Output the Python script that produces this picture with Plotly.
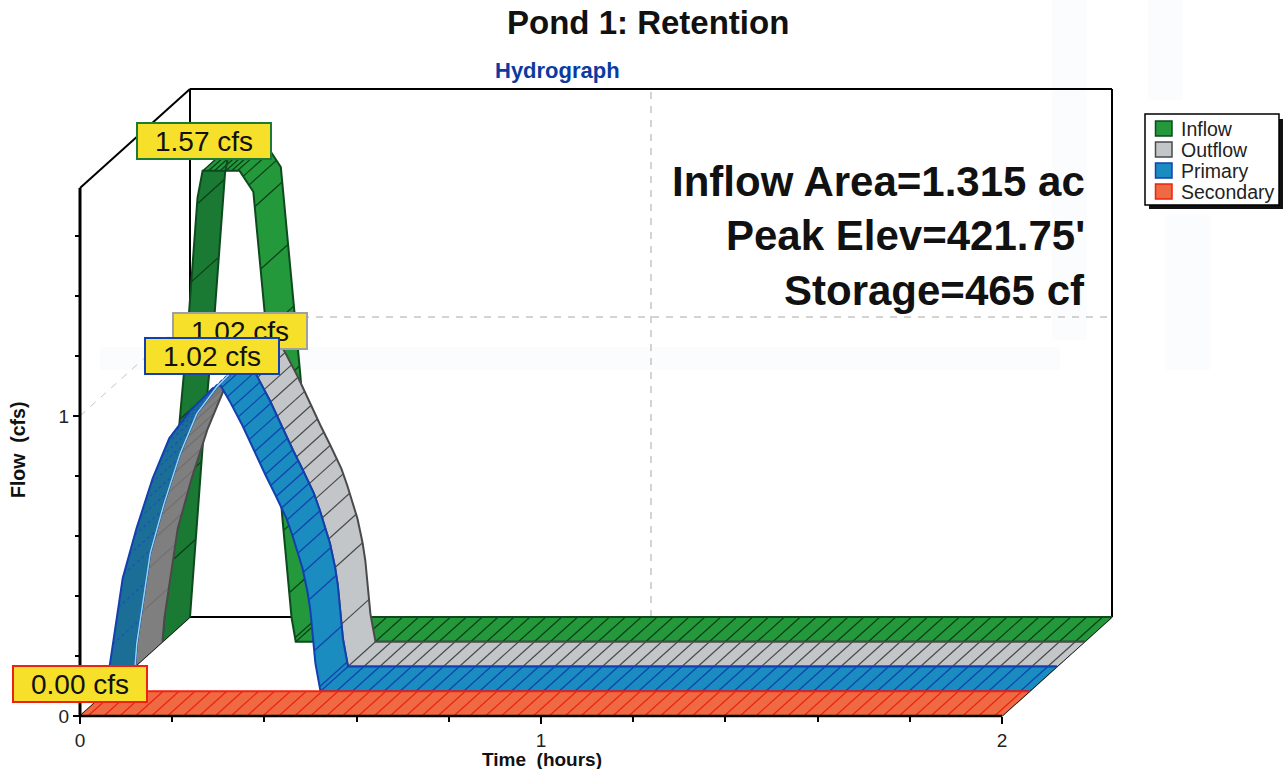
import numpy as np
import plotly.graph_objects as go

# ---- data (hours, cfs) ----
series_names = ["Inflow", "Outflow", "Primary", "Secondary"]
inflow_t = [0, 0.028, 0.054, 0.076, 0.087, 0.167, 0.197, 0.221, 0.239, 0.260, 0.280, 0.289, 2]
inflow_q = [0, 0.58, 1.023, 1.48, 1.57, 1.57, 1.50, 1.10, 0.813, 0.413, 0.08, 0, 0]
outflow_t = [0, 0.004, 0.033, 0.063, 0.098, 0.134, 0.178, 0.228, 0.245, 0.265, 0.293, 0.315, 0.343, 0.364, 0.388, 0.401, 0.423, 0.434, 0.440, 0.451, 0.462, 2]
outflow_q = [0, 0.077, 0.377, 0.543, 0.71, 0.843, 0.933, 1.01, 1.02, 0.967, 0.885, 0.81, 0.72, 0.655, 0.577, 0.52, 0.41, 0.33, 0.27, 0.093, 0, 0]
primary_t = list(outflow_t)
primary_q = list(outflow_q)
secondary_t = [0, 2]
secondary_q = [0, 0]
peak_labels = ["1.57 cfs", "1.02 cfs", "1.02 cfs", "0.00 cfs"]
info_lines = ["Inflow Area=1.315 ac", "Peak Elev=421.75'", "Storage=465 cf"]
x_ticks = [0, 1, 2]
y_ticks = [0, 1]
x_minor = [0.2, 0.4, 0.6, 0.8, 1.2, 1.4, 1.6, 1.8]
y_minor = [0.2, 0.4, 0.6, 0.8, 1.2, 1.4, 1.6]

# ---- pseudo-3D geometry ----
W, H = 1286, 769
L, R, T, B = 80, 1112, 89, 716
PX_T, PX_Q = 461.0, 300.0       # pixels per hour / per cfs
DT, DQ = 27.5 / PX_T, 24.75 / PX_Q  # one ribbon of depth
def X(px): return (px - L) / PX_T
def Y(py): return (B - py) / PX_Q

fig = go.Figure()

def line(xs, ys, color="#000", width=1.5, dash=None):
    fig.add_trace(go.Scatter(x=xs, y=ys, mode="lines", hoverinfo="skip", showlegend=False,
                             line=dict(color=color, width=width, dash=dash)))

def poly(xs, ys, color):
    fig.add_trace(go.Scatter(x=xs, y=ys, mode="lines", fill="toself", fillcolor=color,
                             hoverinfo="skip", showlegend=False, line=dict(width=0, color=color)))

def ribbon(name, t, q, depth, rise_fill, fall_fill, edge, rise_hatch, fall_hatch, dt, rise_dash=None, rise_back=None):
    t, q = np.array(t, float), np.array(q, float)
    x0, y0 = t + depth * DT, q + depth * DQ
    x1, y1 = t + (depth + 1) * DT, q + (depth + 1) * DQ
    pk = int(np.argmax(q))
    tend = t[np.where(q > 0)[0][-1] + 1] if q.max() > 0 else 0.0
    # bands
    if pk > 0:
        poly(list(x0[:pk + 1]) + list(x1[:pk + 1][::-1]), list(y0[:pk + 1]) + list(y1[:pk + 1][::-1]), rise_fill)
    poly(list(x0[pk:]) + list(x1[pk:][::-1]), list(y0[pk:]) + list(y1[pk:][::-1]), fall_fill)
    # hatching in the depth direction
    ts = np.concatenate([np.arange(dt, tend, dt), np.arange(tend, 2.0, 0.0345)]) if tend > 0 else np.arange(0.0172, 2.0, 0.0345)
    tp = t[pk]
    for cond, col, dash in ((ts < tp, rise_hatch, rise_dash), (ts >= tp, fall_hatch, None)):
        hx, hy = [], []
        for h in ts[cond]:
            v = np.interp(h, t, q)
            hx += [h + depth * DT, h + (depth + 1) * DT, None]
            hy += [v + depth * DQ, v + (depth + 1) * DQ, None]
        if hx:
            line(hx, hy, col, 1.2, dash)
    # outlines
    line(list(x0), list(y0), edge, 2)
    line(list(x1), list(y1), edge, 2)
    if rise_back and pk > 0:
        line(list(x1[:pk + 1]), list(y1[:pk + 1]), rise_back, 1.5)

tmax, qmax = 2 + 4 * DT, 4 * DQ
top_q = Y(T)
wall_q = Y(188)

# faint grid on the back wall and side wall
line([1 + tmax - 2, 1 + tmax - 2], [qmax, top_q], "#a8a8a8", 1, "7px,7px")
line([tmax - 2, tmax], [1 + qmax, 1 + qmax], "#a8a8a8", 1, "7px,7px")
line([0, tmax - 2], [1, 1 + qmax], "#c4c4c4", 1, "7px,7px")

# back frame
line([tmax - 2, tmax - 2], [qmax, top_q], "#000", 2)
line([tmax - 2, tmax], [top_q, top_q], "#000", 2)
line([tmax, tmax], [top_q, qmax], "#000", 2)
line([tmax - 2, tmax], [qmax, qmax], "#000", 2)
line([0, tmax - 2], [wall_q, top_q], "#000", 2)
line([0, tmax - 2], [0, qmax], "#000", 1.5)
line([2, tmax], [0, qmax], "#000", 1.5)

# ribbons, back to front
ribbon("Inflow", inflow_t, inflow_q, 3, "#1a7a33", "#24993b", "#0d4a1e", "#0c3d18", "#0c3d18", 0.0125)
ribbon("Outflow", outflow_t, outflow_q, 2, "#7f7f7f", "#c3c6c9", "#4a4a4a", "#707070", "#4a4a4a", 0.014)
ribbon("Primary", primary_t, primary_q, 1, "#1b6f96", "#1a8cc0", "#1240b0", "#1a4fc0", "#1240b0", 0.0118,
       rise_dash="dot", rise_back="#8fd8f5")
ribbon("Secondary", secondary_t, secondary_q, 0, "#ef6a42", "#ef6a42", "#ee2211", "#ee2211", "#ee2211", 0.0345)

# front axes lines
line([0, 0], [0, wall_q], "#000", 3)
line([0, 2], [0, 0], "#000", 2.5)

# ---- text and labels ----
anns = []
def text(s, px, py, size, bold=False, color="#111", xanchor="center", **kw):
    anns.append(dict(text=f"<b>{s}</b>" if bold else s, x=X(px), y=Y(py), xref="x", yref="y", showarrow=False,
                     xanchor=xanchor, yanchor="middle", font=dict(size=size, color=color,
                     family="Liberation Sans"), **kw))

text("Pond 1: Retention", 648, 22, 33, True)
text("Hydrograph", 557.5, 70, 22, True, "#0b3aa0")
for s, py in zip(info_lines, [181, 235, 290]):
    text(s, 1087, py, 42, True, xanchor="right")
text("Time\u00a0\u00a0(hours)", 542, 759, 19, True)
text("Flow\u00a0\u00a0(cfs)", 18, 450, 19.5, True, textangle=-90)

box_colors = ["#1f7a33", "#a0a0a0", "#1240b0", "#ee2211"]
box_centers = [(204, 141), (240, 331), (211.5, 355.5), (79.5, 684)]
for i in [0, 1, 2, 3]:
    anns.append(dict(text=peak_labels[i], x=X(box_centers[i][0]), y=Y(box_centers[i][1]), xref="x", yref="y",
                     showarrow=False, xanchor="center", yanchor="middle", width=132, height=34, align="center",
                     valign="middle", bgcolor="#f6e029", bordercolor=box_colors[i], borderwidth=2, borderpad=0,
                     font=dict(size=28, color="#111", family="Liberation Sans")))

# faint paper tints showing through the scan, then the legend, drawn by hand
shapes = []
for x0, x1, y0, y1 in [(1052, 1087, 0, 340), (1148, 1183, 0, 100), (1166, 1210, 215, 370), (100, 1060, 347, 370)]:
    shapes.append(dict(type="rect", xref="x", yref="y", layer="below", x0=X(x0), x1=X(x1), y0=Y(y0), y1=Y(y1),
                       fillcolor="#fbfcfe", line=dict(width=0)))
shapes += [
    dict(type="rect", xref="x", yref="y", x0=X(1149), x1=X(1283), y0=Y(119), y1=Y(209),
         fillcolor="#111", line=dict(width=0)),
    dict(type="rect", xref="x", yref="y", x0=X(1145), x1=X(1279), y0=Y(114), y1=Y(205),
         fillcolor="#fff", line=dict(color="#000", width=1.5)),
]
leg_fill = ["#24993b", "#c3c6c9", "#1a8cc0", "#ef6a42"]
leg_edge = ["#0d4a1e", "#4a4a4a", "#1240b0", "#ee2211"]
for i, nm in enumerate(series_names):
    cy = 128.5 + i * 21
    shapes.append(dict(type="rect", xref="x", yref="y", x0=X(1155.5), x1=X(1172), y0=Y(cy - 7.5), y1=Y(cy + 7.5),
                       fillcolor=leg_fill[i], line=dict(color=leg_edge[i], width=1.5)))
    text(nm, 1179, cy, 19.5, xanchor="left", color="#222")

fig.update_layout(
    width=W, height=H, paper_bgcolor="#fff", plot_bgcolor="rgba(0,0,0,0)", showlegend=False,
    margin=dict(l=0, r=0, t=0, b=0, pad=0), annotations=anns, shapes=shapes,
    font=dict(family="Liberation Sans", size=19, color="#222"),
    xaxis=dict(range=[X(0), X(W)], anchor="free", position=(H - B) / H, domain=[0, 1],
               tickmode="array", tickvals=x_ticks, ticks="outside", ticklen=7, tickwidth=1.5,
               tickcolor="#000", showgrid=False, zeroline=False, showline=False, tickfont=dict(size=19, color="#222"),
               minor=dict(tickmode="array", tickvals=x_minor, ticks="outside", ticklen=5, tickcolor="#000", showgrid=False)),
    yaxis=dict(range=[Y(H), Y(0)], anchor="free", position=L / W, domain=[0, 1],
               tickmode="array", tickvals=y_ticks, ticks="outside", ticklen=7, tickwidth=1.5,
               tickcolor="#000", showgrid=False, zeroline=False, showline=False, tickfont=dict(size=19, color="#222"),
               minor=dict(tickmode="array", tickvals=y_minor, ticks="outside", ticklen=5, tickcolor="#000", showgrid=False)),
)
fig.write_html("out.html", config=dict(displayModeBar=False), post_script="document.body.style.margin='0';")
